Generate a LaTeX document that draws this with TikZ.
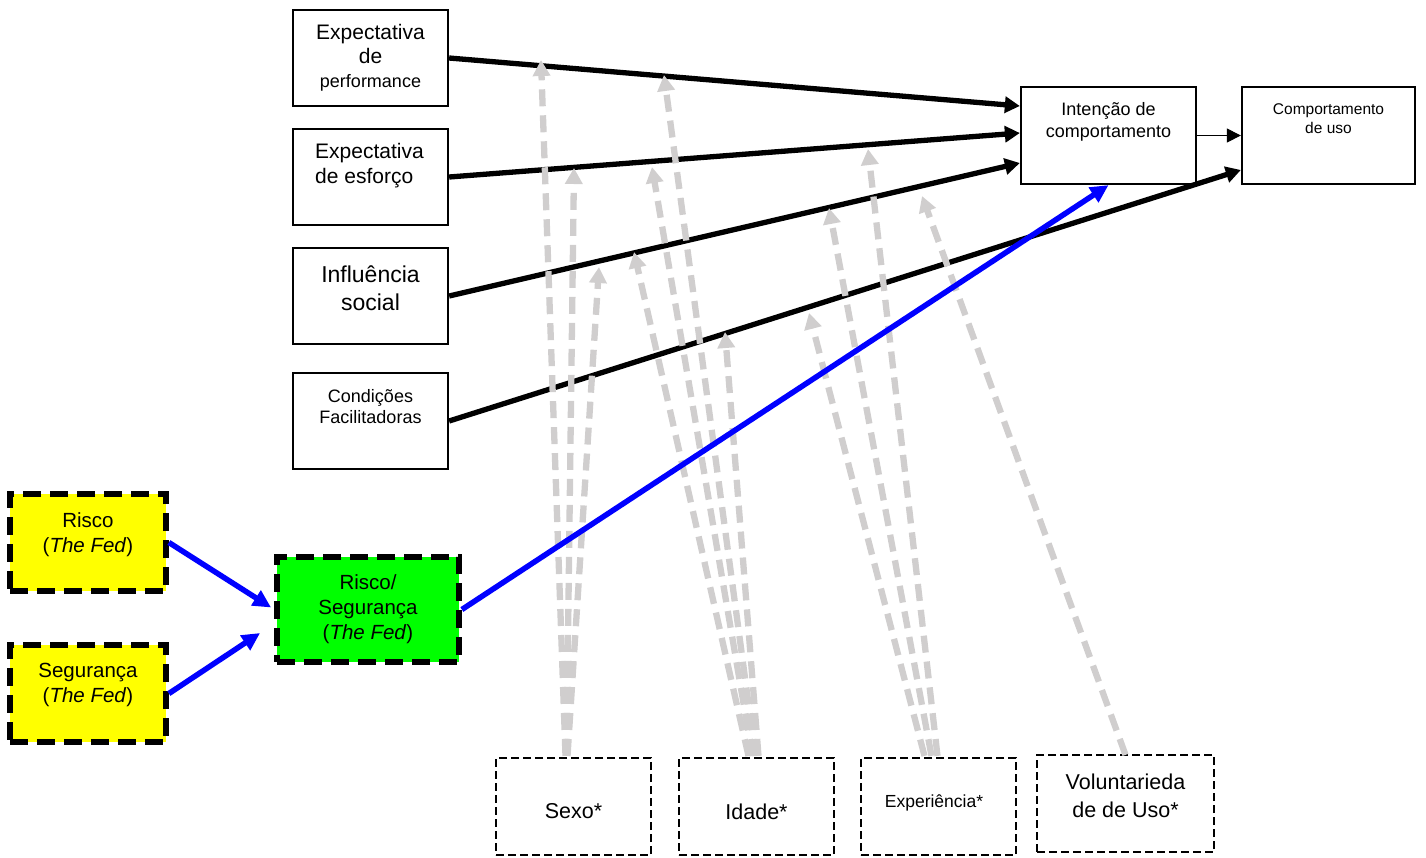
\documentclass[tikz,border=0pt]{standalone}
\usepackage{fontspec}
\setmainfont{Liberation Sans}
\usetikzlibrary{arrows.meta}
\definecolor{modgray}{RGB}{208,206,206}
\definecolor{fedyellow}{RGB}{255,255,0}
\definecolor{fedgreen}{RGB}{0,255,0}
\definecolor{linkblue}{RGB}{0,0,255}
\newcommand{\fs}[2]{\fontsize{#1}{#2}\selectfont}
\begin{document}
\begin{tikzpicture}[x=1pt,y=-1pt,
  solidbox/.style={draw, line width=2.3pt, inner sep=0pt, minimum height=96pt, minimum width=155pt},
  fedbox/.style={draw, line width=5.8pt, dash pattern=on 18pt off 9pt, inner sep=0pt, minimum height=97pt, minimum width=156pt},
  modbox/.style={draw, line width=2.2pt, dash pattern=on 8pt off 4pt, inner sep=0pt, minimum height=97pt, minimum width=155pt},
  txt/.style={inner sep=0pt, align=center},
  mainarrow/.style={line width=5.3pt, -{Triangle[length=15pt,width=16pt]}},
  thinarrow/.style={line width=1pt, -{Triangle[length=14pt,width=14pt]}},
  bluearrow/.style={draw=linkblue, line width=5.5pt, -{Triangle[length=18pt,width=17pt]}, color=linkblue},
  modarrow/.style={draw=modgray, line width=6.3pt, dash pattern=on 17pt off 9pt, -{Triangle[length=16pt,width=17pt]}, color=modgray}
]
\useasboundingbox (0,0) rectangle (1426,857);

% constructs
\node[solidbox] (perf) at (370.5,58) {};
\node[solidbox] (esf) at (370.5,177) {};
\node[solidbox] (soc) at (370.5,296) {};
\node[solidbox] (cond) at (370.5,421) {};
\node[solidbox, minimum width=175pt, minimum height=97pt] (intent) at (1108.5,135.5) {};
\node[solidbox, minimum width=173pt, minimum height=97pt] (comp) at (1328.5,135.5) {};

\node[txt, font=\fs{21}{24}] (perf-t) at (370.5,58) {Expectativa\\de\\\fs{18}{24}performance};
\node[txt, align=left, font=\fs{21}{25}] (esf-t) at (369.5,166) {Expectativa\\de esforço};
\node[txt, font=\fs{23}{28}] (soc-t) at (370.5,288) {Influência\\social};
\node[txt, font=\fs{18}{21}] (cond-t) at (370.5,407) {Condições\\Facilitadoras};
\node[txt, font=\fs{18}{22}] (intent-t) at (1108.5,121.5) {Intenção de\\comportamento};
\node[txt, font=\fs{15.5}{19}] (comp-t) at (1328.5,119) {Comportamento\\de uso};

% risk / security constructs
\node[fedbox, fill=fedyellow] (risco) at (88,542.5) {};
\node[fedbox, fill=fedyellow] (seg) at (88,693.5) {};
\node[fedbox, fill=fedgreen, minimum width=182pt, minimum height=105pt] (risseg) at (368,609.5) {};
\node[txt, font=\fs{20.5}{25}] (risco-t) at (88,535) {Risco\\(\textit{The Fed})};
\node[txt, font=\fs{20.5}{25}] (seg-t) at (88,685) {Segurança\\(\textit{The Fed})};
\node[txt, font=\fs{20.5}{25}] (risseg-t) at (368,609.5) {Risco/\\Segurança\\(\textit{The Fed})};

% moderators
\node[modbox] (sexo) at (573.5,806.5) {};
\node[modbox] (idade) at (756.5,806.5) {};
\node[modbox] (exp) at (938.5,806.5) {};
\node[modbox, minimum width=177pt] (vol) at (1125.5,803.5) {};
\node[txt, font=\fs{21.5}{24}] (sexo-t) at (573.5,811) {Sexo*};
\node[txt, font=\fs{21.5}{24}] (idade-t) at (756.5,812) {Idade*};
\node[txt, font=\fs{17.5}{22}] (exp-t) at (934,803) {Experiência*};
\node[txt, font=\fs{21.5}{28}] (vol-t) at (1125.5,796) {Voluntarieda\\de de Uso*};

% main paths
\draw[mainarrow] (perf.east) -- ([yshift=29.5pt]intent.west);
\draw[mainarrow] (esf.east) -- ([yshift=2.5pt]intent.west);
\draw[mainarrow] (soc.east) -- ([yshift=-27.5pt]intent.west);
\draw[mainarrow] (cond.east) -- ([yshift=-34.5pt]comp.west);
\draw[thinarrow] (intent.east) -- (comp.west);

% moderating effects
\coordinate (sx1) at (541,60);
\coordinate (sx2) at (574,168);
\coordinate (sx3) at (599,267);
\coordinate (id1) at (664,75);
\coordinate (id2) at (652,167);
\coordinate (id3) at (634,252);
\coordinate (id4) at (725,332);
\coordinate (ex1) at (868,149);
\coordinate (ex2) at (829,208);
\coordinate (ex3) at (809,313);
\coordinate (vo1) at (922,196);
\draw[modarrow] ([xshift=-8pt,yshift=1pt]sexo.north) -- (sx1);
\draw[modarrow] ([xshift=-7pt,yshift=1pt]sexo.north) -- (sx2);
\draw[modarrow] ([xshift=-6pt,yshift=1pt]sexo.north) -- (sx3);
\draw[modarrow] ([xshift=-1pt,yshift=1pt]idade.north) -- (id1);
\draw[modarrow] ([xshift=-4pt,yshift=1pt]idade.north) -- (id2);
\draw[modarrow] ([xshift=-8pt,yshift=1pt]idade.north) -- (id3);
\draw[modarrow] ([xshift=2pt,yshift=1pt]idade.north) -- (id4);
\draw[modarrow] ([xshift=-1pt,yshift=1pt]exp.north) -- (ex1);
\draw[modarrow] ([xshift=-7pt,yshift=1pt]exp.north) -- (ex2);
\draw[modarrow] ([xshift=-14pt,yshift=1pt]exp.north) -- (ex3);
\draw[modarrow] ([yshift=-1pt]vol.north) -- (vo1);

% risk / security paths
\draw[bluearrow] (risco.east) -- ([xshift=-3pt,yshift=2pt]risseg.west);
\draw[bluearrow] (seg.east) -- ([xshift=-14pt,yshift=-23.5pt]risseg.west);
\draw[bluearrow] (risseg.east) -- (intent.south);
\end{tikzpicture}
\end{document}
